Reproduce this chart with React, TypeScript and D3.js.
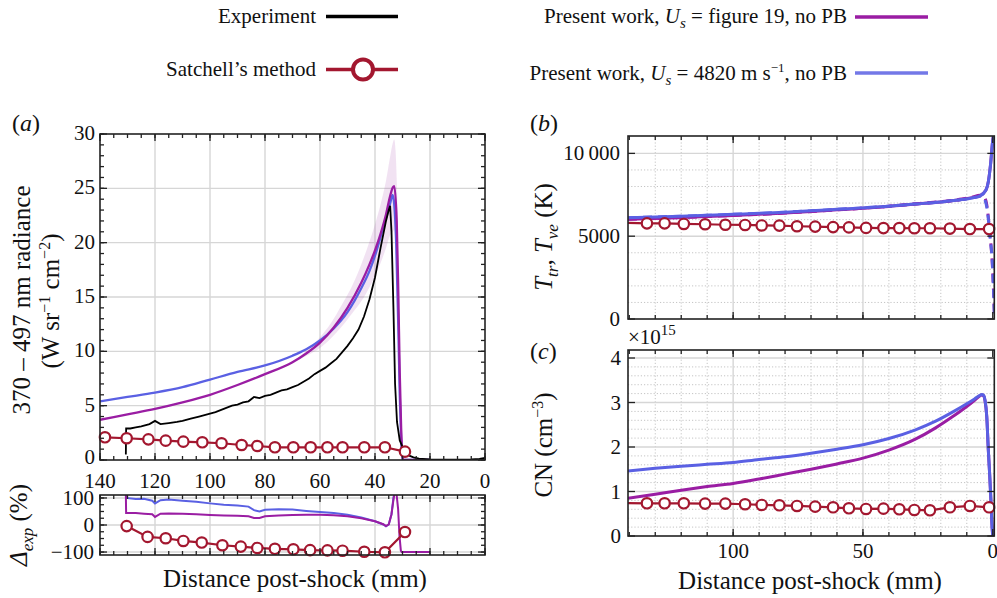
import React from "react";
import * as d3 from "d3";

const FONT = "'Liberation Serif', 'Times New Roman', serif";
const C_EXP = "#000000";
const C_SAT = "#A3172F";
const C_FIG = "#9A1DA3";
const C_4820 = "#5A60E3";
const C_BAND = "rgba(160, 60, 170, 0.15)";
const C_GRID = "#d6d6d6";
const C_MINOR = "#c4c4c4";

// ---------------- panel (a): 370-497 nm radiance ----------------
const expDist = [130.6, 130.5, 129, 127, 125, 122, 120, 118, 115, 112, 110, 107, 104, 101, 98, 95, 92, 90, 88, 86, 84, 82, 80, 78, 76, 74, 72, 70, 68, 66, 64, 62, 60, 58, 56, 54, 52, 50, 48, 46, 44, 42, 40, 38, 36, 35, 34.5, 34.0, 33.3, 32.7, 32.0, 31.0, 30, 29, 28, 26, 24, 20, 15, 10, 5, 2, 0];
const expRad = [0.5, 2.9, 2.9, 3.0, 3.1, 3.3, 3.6, 3.3, 3.4, 3.5, 3.6, 3.8, 4.0, 4.2, 4.4, 4.7, 5.0, 5.1, 5.3, 5.4, 5.8, 5.7, 5.9, 6.0, 6.2, 6.4, 6.5, 6.7, 6.9, 7.2, 7.5, 7.9, 8.2, 8.5, 8.9, 9.3, 9.9, 10.5, 11.2, 12.0, 13.2, 14.8, 16.8, 19.5, 22.0, 23.0, 23.4, 21.0, 14.0, 7.0, 3.5, 1.8, 1.2, 0.7, 0.45, 0.25, 0.12, 0.05, 0.03, 0.03, 0.05, 0.1, 0.2];

const figDist = [140, 130, 120, 110, 100, 90, 80, 70, 65, 60, 55, 50, 45, 42, 40, 38, 36, 34.5, 33.5, 33.0, 32.1, 31.5, 31, 30.5, 30, 29.8, 20];
const figRad = [3.7, 4.2, 4.7, 5.3, 6.0, 6.9, 7.9, 9.0, 9.8, 10.8, 12.2, 14.0, 16.3, 18.0, 19.3, 20.8, 22.6, 24.3, 25.1, 25.2, 22.0, 15.0, 8.0, 3.0, 0.3, 0, 0];

const u48Dist = [140, 130, 120, 110, 100, 90, 80, 70, 65, 60, 55, 50, 45, 42, 40, 38, 36, 34.5, 33.6, 33.0, 32.3, 31.5, 31, 30.5, 30, 29.8, 20];
const u48Rad = [5.4, 5.8, 6.2, 6.7, 7.4, 8.1, 8.7, 9.6, 10.2, 11.0, 12.1, 13.6, 15.8, 17.4, 18.8, 20.5, 22.3, 23.6, 24.4, 23.5, 20.0, 12.0, 6.0, 2.0, 0.2, 0, 0];

const bandDist = [68, 64, 60, 56, 52, 48, 45, 42, 40, 38, 36, 34.5, 33.5, 33, 32.5, 32, 31.5, 31, 30.5, 30];
const bandHi = [9.4, 10.3, 11.3, 12.6, 14.3, 16.2, 18.0, 20.1, 21.7, 23.5, 25.7, 27.9, 29.2, 29.5, 28.4, 25.0, 18.0, 9.5, 3.6, 0.4];
const bandLo = [9.2, 9.7, 10.3, 11.2, 12.3, 13.6, 14.6, 15.9, 16.9, 18.1, 19.5, 20.7, 21.0, 21.2, 20.0, 17.5, 12.5, 6.5, 2.4, 0.2];

const satADist = [138.2, 130.3, 122.4, 116.1, 109.7, 102.8, 95.8, 88.5, 82.8, 76.4, 69.7, 63.4, 57.3, 51.8, 43.9, 36.4, 29.1];
const satARad = [2.09, 2.0, 1.9, 1.78, 1.69, 1.63, 1.54, 1.38, 1.29, 1.17, 1.17, 1.17, 1.17, 1.17, 1.17, 1.17, 0.77];

// ---------------- panel (a), lower: Delta_exp (%) ----------------
const dU48Dist = [130.6, 130.5, 127, 124, 121, 120, 118, 115, 110, 105, 100, 95, 90, 86, 84, 82, 80, 75, 70, 65, 60, 55, 50, 45, 40, 37, 36, 35, 34, 33.3, 33];
const dU48Val = [115, 100, 96, 97, 90, 80, 92, 94, 90, 86, 80, 75, 72, 68, 55, 50, 56, 58, 57, 52, 48, 44, 38, 28, 14, 2, -5, 2, 40, 100, 115];

const dFigDist = [130.6, 130.5, 127, 124, 121, 120, 118, 115, 110, 105, 100, 95, 90, 86, 84, 82, 80, 75, 70, 65, 60, 55, 50, 45, 40, 37, 36, 35, 34, 33.2, 32.9, 32.2, 31.6, 31.1, 30.6, 30.3, 20];
const dFigVal = [115, 44, 44, 42, 40, 30, 42, 43, 42, 40, 37, 35, 34, 32, 26, 26, 32, 35, 37, 38, 38, 36, 32, 25, 14, 3, -4, 2, 40, 100, 118, 118, 60, -40, -95, -100, -100];

const satDDist = [130.3, 122.7, 116.1, 109.7, 103, 95.5, 88.8, 82.8, 76.4, 69.7, 63.6, 57.3, 51.8, 43.9, 36.4, 29.1];
const satDVal = [-4, -44, -49, -59, -65, -75, -80, -85, -88, -90, -93, -94, -95, -99, -101, -26];

// ---------------- panel (b): temperatures ----------------
const ttrDist = [140.5, 130, 120, 110, 100, 90, 80, 70, 60, 50, 40, 30, 20, 12, 8, 5, 2.6, 1.7, 0.8, 0, -0.6];
const ttrU48 = [6120, 6160, 6210, 6260, 6320, 6380, 6450, 6530, 6620, 6710, 6810, 6940, 7070, 7210, 7310, 7420, 7790, 8290, 9400, 10800, 11300];
const ttrFig = [6020, 6070, 6130, 6190, 6250, 6320, 6400, 6490, 6590, 6690, 6800, 6940, 7070, 7220, 7330, 7440, 7790, 8290, 9400, 10800, 11300];

const tveU48Dist = [140.5, 130, 120, 110, 100, 90, 80, 70, 60, 50, 40, 30, 20, 12, 8, 5, 4.2, 3.0, 2.1, 1.04, 0, -0.6];
const tveU48 = [6120, 6160, 6210, 6260, 6320, 6380, 6450, 6530, 6620, 6710, 6810, 6940, 7070, 7210, 7310, 7420, 7430, 7180, 6580, 4970, 2960, 340];
const tveFigDist = [140.5, 130, 120, 110, 100, 90, 80, 70, 60, 50, 40, 30, 20, 12, 8, 5, 3.2, 2.3, 1.2, 0.1, -0.6];
const tveFig = [6020, 6070, 6130, 6190, 6250, 6320, 6400, 6490, 6590, 6690, 6810, 6950, 7090, 7240, 7360, 7470, 7350, 6900, 5300, 3100, 400];

const satStartDist = 140.5;
const satDist = [133.2, 126.4, 119.0, 110.8, 103.0, 95.4, 89.0, 82.2, 75.4, 68.4, 61.5, 55.4, 48.8, 42.1, 36.0, 30.2, 24.2, 16.5, 8.8, 1.4];
const satT0 = 5800;
const satT = [5775, 5775, 5740, 5720, 5690, 5680, 5650, 5640, 5600, 5580, 5550, 5530, 5500, 5490, 5490, 5480, 5480, 5460, 5430, 5430];

// ---------------- panel (c): CN number density (x1e15 cm^-3) ----------------
const cnDist = [140.5, 130, 120, 110, 100, 90, 80, 70, 60, 50, 40, 30, 22, 15, 10, 7, 5, 4.2, 3.5, 3.0, 2.3, 1.7, 1.2, 0.7, 0.3, 0];
const cnU48 = [1.46, 1.52, 1.57, 1.61, 1.65, 1.72, 1.78, 1.86, 1.95, 2.05, 2.19, 2.38, 2.58, 2.8, 2.97, 3.08, 3.16, 3.18, 3.16, 3.06, 2.68, 1.93, 1.4, 0.8, 0.25, 0];
const cnFig = [0.85, 0.94, 1.03, 1.11, 1.18, 1.28, 1.39, 1.5, 1.62, 1.75, 1.93, 2.17, 2.43, 2.7, 2.91, 3.05, 3.15, 3.17, 3.15, 3.05, 2.68, 1.93, 1.4, 0.8, 0.25, 0];
const satCN0 = 0.74;
const satCN = [0.735, 0.735, 0.735, 0.728, 0.728, 0.713, 0.698, 0.69, 0.675, 0.66, 0.645, 0.623, 0.608, 0.615, 0.6, 0.585, 0.578, 0.645, 0.675, 0.645];

// ---------------- ticks ----------------
const tickAX = [140, 120, 100, 80, 60, 40, 20, 0];
const tickAY = [0, 5, 10, 15, 20, 25, 30];
const tickDY = [100, 0, -100];
const tickBY = [0, 5000, 10000];
const tickBYLabels = ["0", "5000", "10\u2009000"];
const tickCX = [100, 50, 0];
const tickCY = [0, 1, 2, 3, 4];

type Sc = d3.ScaleLinear<number, number>;

const range = (a: number, b: number, s: number) => {
  const out: number[] = [];
  for (let v = a; v <= b + 1e-9; v += s) out.push(Math.round(v * 1000) / 1000);
  return out;
};

const zip = (xs: number[], ys: number[]) => xs.map((x, i) => [x, ys[i]] as [number, number]);

function pathOf(xs: Sc, ys: Sc, pts: [number, number][], smooth = false) {
  const gen = d3.line<[number, number]>().x((d) => xs(d[0])).y((d) => ys(d[1]));
  if (smooth) gen.curve(d3.curveMonotoneX);
  return gen(pts) || "";
}

function Grid({ xs, ys, majX, majY, minX = [], minY = [] }: any) {
  const [xa, xb] = xs.range();
  const [ya, yb] = ys.range();
  const l = Math.min(xa, xb), r = Math.max(xa, xb), t = Math.min(ya, yb), b = Math.max(ya, yb);
  return (
    <g>
      {minX.map((v: number, i: number) => (
        <line key={"mx" + i} x1={xs(v)} x2={xs(v)} y1={t} y2={b} stroke={C_MINOR} strokeWidth={1} strokeDasharray="1.2,2" />
      ))}
      {minY.map((v: number, i: number) => (
        <line key={"my" + i} x1={l} x2={r} y1={ys(v)} y2={ys(v)} stroke={C_MINOR} strokeWidth={1} strokeDasharray="1.2,2" />
      ))}
      {majX.map((v: number, i: number) => (
        <line key={"gx" + i} x1={xs(v)} x2={xs(v)} y1={t} y2={b} stroke={C_GRID} strokeWidth={1.4} />
      ))}
      {majY.map((v: number, i: number) => (
        <line key={"gy" + i} x1={l} x2={r} y1={ys(v)} y2={ys(v)} stroke={C_GRID} strokeWidth={1.4} />
      ))}
    </g>
  );
}

function Box({ xs, ys, majX, minX, majY, minY }: any) {
  const [xa, xb] = xs.range();
  const [ya, yb] = ys.range();
  const l = Math.min(xa, xb), r = Math.max(xa, xb), t = Math.min(ya, yb), b = Math.max(ya, yb);
  const tk: any[] = [];
  const add = (vals: number[], len: number, axis: "x" | "y", key: string) => {
    vals.forEach((v, i) => {
      if (axis === "x") {
        const x = xs(v);
        tk.push(<line key={key + "b" + i} x1={x} x2={x} y1={b} y2={b - len} stroke="#222" strokeWidth={1.3} />);
        tk.push(<line key={key + "t" + i} x1={x} x2={x} y1={t} y2={t + len} stroke="#222" strokeWidth={1.3} />);
      } else {
        const y = ys(v);
        tk.push(<line key={key + "l" + i} x1={l} x2={l + len} y1={y} y2={y} stroke="#222" strokeWidth={1.3} />);
        tk.push(<line key={key + "r" + i} x1={r} x2={r - len} y1={y} y2={y} stroke="#222" strokeWidth={1.3} />);
      }
    });
  };
  add(minX, 4, "x", "mx");
  add(majX, 7, "x", "Mx");
  add(minY, 4, "y", "my");
  add(majY, 7, "y", "My");
  return (
    <g>
      {tk}
      <rect x={l} y={t} width={r - l} height={b - t} fill="none" stroke="#222" strokeWidth={1.6} />
    </g>
  );
}

function Markers({ xs, ys, pts, r = 5.2 }: any) {
  return (
    <g>
      {pts.map((p: [number, number], i: number) => (
        <circle key={i} cx={xs(p[0])} cy={ys(p[1])} r={r} fill="#fff" stroke={C_SAT} strokeWidth={2.2} />
      ))}
    </g>
  );
}

export default function App() {
  const xA = d3.scaleLinear().domain([140, 0]).range([100, 485]);
  const yA = d3.scaleLinear().domain([0, 30]).range([460, 134]);
  const yD = d3.scaleLinear().domain([-111, 111]).range([555, 495]);
  const xB = d3.scaleLinear().domain([140.5, -0.6]).range([628, 994.3]);
  const yB = d3.scaleLinear().domain([0, 11050]).range([319, 136]);
  const yC = d3.scaleLinear().domain([0, 4.18]).range([536, 350]);

  const band = d3
    .area<number>()
    .curve(d3.curveMonotoneX)
    .x((d, i) => xA(bandDist[i]))
    .y0((d, i) => yA(bandLo[i]))
    .y1((d, i) => yA(bandHi[i]))(bandDist) || "";

  const satBPts = zip(satDist, satT);
  const satCPts = zip(satDist, satCN);

  const txt = { fontFamily: FONT, fill: "#111" } as const;

  return (
    <svg
      width={997}
      height={598}
      viewBox="0 0 997 598"
      style={{ position: "absolute", left: 0, top: 0, background: "#fff" }}
    >
      <defs>
        <clipPath id="clipA"><rect x={100} y={134} width={385} height={326} /></clipPath>
        <clipPath id="clipD"><rect x={100} y={495} width={385} height={60} /></clipPath>
        <clipPath id="clipB"><rect x={628} y={136} width={366.3} height={183} /></clipPath>
        <clipPath id="clipC"><rect x={628} y={350} width={366.3} height={186} /></clipPath>
      </defs>
      <rect x={0} y={0} width={997} height={598} fill="#fff" />

      {/* ---------------- legend ---------------- */}
      <g style={txt} fontSize={21}>
        <text x={316} y={23} textAnchor="end">Experiment</text>
        <line x1={326} x2={398} y1={16.5} y2={16.5} stroke={C_EXP} strokeWidth={3.5} />
        <text x={316} y={76} textAnchor="end">Satchell’s method</text>
        <line x1={326} x2={398} y1={69.5} y2={69.5} stroke={C_SAT} strokeWidth={3.5} />
        <circle cx={363} cy={69.5} r={10} fill="#fff" stroke={C_SAT} strokeWidth={4} />
        <text x={847} y={23} textAnchor="end">
          Present work, <tspan fontStyle="italic">U</tspan>
          <tspan fontStyle="italic" fontSize={15} dy={5}>s</tspan>
          <tspan dy={-5}> = figure 19, no PB</tspan>
        </text>
        <line x1={855} x2={928} y1={17} y2={17} stroke={C_FIG} strokeWidth={3.5} />
        <text x={847} y={80} textAnchor="end">
          Present work, <tspan fontStyle="italic">U</tspan>
          <tspan fontStyle="italic" fontSize={15} dy={5}>s</tspan>
          <tspan dy={-5}> = 4820 m s</tspan>
          <tspan fontSize={13} dy={-8}>−1</tspan>
          <tspan dy={8}>, no PB</tspan>
        </text>
        <line x1={855} x2={928} y1={73} y2={73} stroke={C_4820} strokeOpacity={0.85} strokeWidth={3.5} />
      </g>

      {/* ---------------- panel (a) ---------------- */}
      <Grid xs={xA} ys={yA} majX={[120, 100, 80, 60, 40, 20]} majY={[5, 10, 15, 20, 25]} />
      <g clipPath="url(#clipA)">
        <path d={band} fill={C_BAND} stroke="none" />
        <path d={pathOf(xA, yA, zip(u48Dist, u48Rad), true)} fill="none" stroke={C_4820} strokeWidth={2.3} />
        <path d={pathOf(xA, yA, zip(figDist, figRad), true)} fill="none" stroke={C_FIG} strokeWidth={2.3} />
        <path d={pathOf(xA, yA, zip(expDist, expRad))} fill="none" stroke={C_EXP} strokeWidth={1.8} />
        <path d={pathOf(xA, yA, zip(satADist, satARad))} fill="none" stroke={C_SAT} strokeWidth={2.2} />
      </g>
      <Markers xs={xA} ys={yA} pts={zip(satADist, satARad)} />
      <Box xs={xA} ys={yA} majX={tickAX} minX={range(0, 140, 5)} majY={tickAY} minY={range(0, 30, 1)} />
      <g style={txt} fontSize={21}>
        {tickAY.map((v) => (
          <text key={v} x={95} y={yA(v) + (v === 0 ? 4 : 6)} textAnchor="end">{v}</text>
        ))}
        {tickAX.map((v) => (
          <text key={v} x={xA(v)} y={487.5} textAnchor="middle">{v}</text>
        ))}
      </g>
      <text x={12} y={131} style={txt} fontSize={24}>
        (<tspan fontStyle="italic">a</tspan>)
      </text>
      <g style={txt} fontSize={25}>
        <text transform="translate(30,300) rotate(-90)" textAnchor="middle">370 – 497 nm radiance</text>
        <text transform="translate(59,301) rotate(-90)" textAnchor="middle">
          (W sr<tspan fontSize={16} dy={-9}>−1</tspan>
          <tspan dy={9}> cm</tspan>
          <tspan fontSize={16} dy={-9}>−2</tspan>
          <tspan dy={9}>)</tspan>
        </text>
      </g>

      {/* ---------------- panel (a) lower ---------------- */}
      <Grid xs={xA} ys={yD} majX={[120, 100, 80, 60, 40, 20]} majY={[100, 0, -100]} />
      <g clipPath="url(#clipD)">
        <path d={pathOf(xA, yD, zip(dU48Dist, dU48Val))} fill="none" stroke={C_4820} strokeWidth={2} />
        <path d={pathOf(xA, yD, zip(dFigDist, dFigVal))} fill="none" stroke={C_FIG} strokeWidth={2} />
        <path d={pathOf(xA, yD, zip(satDDist, satDVal))} fill="none" stroke={C_SAT} strokeWidth={2.2} />
      </g>
      <Markers xs={xA} ys={yD} pts={zip(satDDist, satDVal)} />
      <Box xs={xA} ys={yD} majX={tickAX} minX={range(0, 140, 5)} majY={tickDY} minY={range(-100, 100, 25)} />
      <g style={txt} fontSize={21}>
        {tickDY.map((v) => (
          <text key={v} x={94} y={yD(v) + 7} textAnchor="end">{v < 0 ? "−" + Math.abs(v) : v}</text>
        ))}
      </g>
      <g style={txt} fontSize={25}>
        <text transform="translate(27,525) rotate(-90)" textAnchor="middle">
          <tspan fontStyle="italic">Δ</tspan>
          <tspan fontStyle="italic" fontSize={17} dy={6}>exp</tspan>
          <tspan dy={-6}> (%)</tspan>
        </text>
        <text x={295} y={587} textAnchor="middle">Distance post-shock (mm)</text>
      </g>

      {/* ---------------- panel (b) ---------------- */}
      <Grid xs={xB} ys={yB} majX={[100, 50]} majY={[5000, 10000]} minX={[130, 120, 110, 90, 80, 70, 60, 40, 30, 20, 10]} minY={[1000, 2000, 3000, 4000, 6000, 7000, 8000, 9000]} />
      <g clipPath="url(#clipB)">
        <path d={pathOf(xB, yB, zip(tveFigDist, tveFig), true)} fill="none" stroke={C_FIG} strokeWidth={3} strokeDasharray="9,6" />
        <path d={pathOf(xB, yB, zip(tveU48Dist, tveU48), true)} fill="none" stroke={C_4820} strokeWidth={3} strokeDasharray="9,6" />
        <path d={pathOf(xB, yB, zip(ttrDist, ttrFig), true)} fill="none" stroke={C_FIG} strokeWidth={3} />
        <path d={pathOf(xB, yB, zip(ttrDist, ttrU48), true)} fill="none" stroke={C_4820} strokeWidth={3} />
        <path d={pathOf(xB, yB, [[satStartDist, satT0], ...satBPts])} fill="none" stroke={C_SAT} strokeWidth={2.2} />
      </g>
      <Markers xs={xB} ys={yB} pts={satBPts} />
      <Box xs={xB} ys={yB} majX={tickCX} minX={range(10, 140, 10)} majY={tickBY} minY={[]} />
      <g style={txt} fontSize={21}>
        {tickBY.map((v, i) => (
          <text key={v} x={620} y={yB(v) + 7} textAnchor="end">{tickBYLabels[i]}</text>
        ))}
      </g>
      <text x={530} y={131} style={txt} fontSize={24}>
        (<tspan fontStyle="italic">b</tspan>)
      </text>
      <g style={txt} fontSize={25}>
        <text transform="translate(552,237) rotate(-90)" textAnchor="middle">
          <tspan fontStyle="italic">T</tspan>
          <tspan fontStyle="italic" fontSize={17} dy={6}>tr</tspan>
          <tspan dy={-6}>, </tspan>
          <tspan fontStyle="italic">T</tspan>
          <tspan fontStyle="italic" fontSize={17} dy={6}>ve</tspan>
          <tspan dy={-6}> (K)</tspan>
        </text>
      </g>

      {/* ---------------- panel (c) ---------------- */}
      <Grid xs={xB} ys={yC} majX={[100, 50]} majY={[1, 2, 3, 4]} minX={[130, 120, 110, 90, 80, 70, 60, 40, 30, 20, 10]} minY={range(0.2, 4.0, 0.2).filter((v) => Math.abs(v - Math.round(v)) > 0.01)} />
      <g clipPath="url(#clipC)">
        <path d={pathOf(xB, yC, zip(cnDist, cnFig), true)} fill="none" stroke={C_FIG} strokeWidth={3} />
        <path d={pathOf(xB, yC, zip(cnDist, cnU48), true)} fill="none" stroke={C_4820} strokeWidth={3} />
        <path d={pathOf(xB, yC, [[satStartDist, satCN0], ...satCPts])} fill="none" stroke={C_SAT} strokeWidth={2.2} />
      </g>
      <Markers xs={xB} ys={yC} pts={satCPts} />
      <Box xs={xB} ys={yC} majX={tickCX} minX={range(10, 140, 10)} majY={tickCY} minY={[]} />
      <g style={txt} fontSize={21}>
        {tickCY.map((v) => (
          <text key={v} x={621} y={yC(v) + 7} textAnchor="end">{v}</text>
        ))}
        {tickCX.map((v) => (
          <text key={v} x={xB(v)} y={558} textAnchor="middle">{v}</text>
        ))}
        <text x={628} y={344}>
          ×10<tspan fontSize={15} dy={-9}>15</tspan>
        </text>
      </g>
      <text x={530} y={359} style={txt} fontSize={24}>
        (<tspan fontStyle="italic">c</tspan>)
      </text>
      <g style={txt} fontSize={25}>
        <text transform="translate(552,445) rotate(-90)" textAnchor="middle">
          CN (cm<tspan fontSize={16} dy={-9}>−3</tspan>
          <tspan dy={9}>)</tspan>
        </text>
        <text x={810} y={589} textAnchor="middle">Distance post-shock (mm)</text>
      </g>
    </svg>
  );
}
